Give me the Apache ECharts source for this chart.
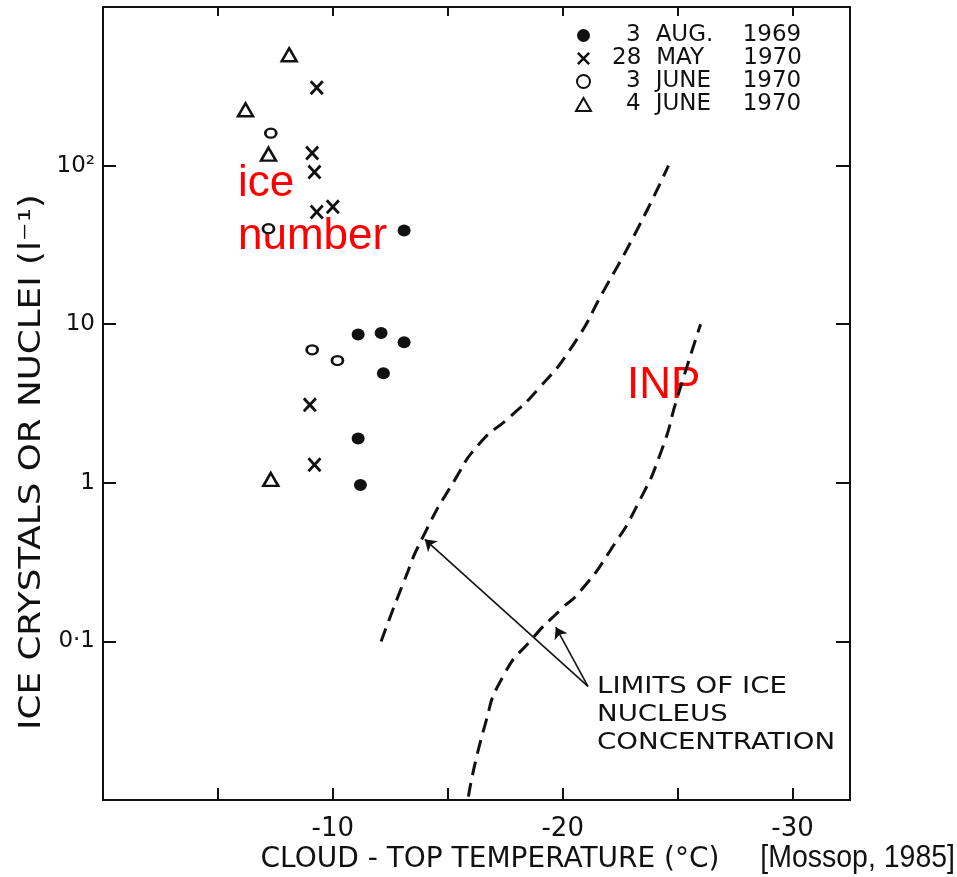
<!DOCTYPE html>
<html>
<head>
<meta charset="utf-8">
<script src="https://cdn.jsdelivr.net/npm/echarts@6/dist/echarts.min.js"></script>
<style>
html,body{margin:0;padding:0;background:#fff;}
#main{width:957px;height:877px;}
</style>
</head>
<body>
<div id="main"></div>
<script>
// ---- data ----
const seriesNames = ['3 AUG. 1969', '28 MAY 1970', '3 JUNE 1970', '4 JUNE 1970'];

const aug1969T = [-13.1, -11.1, -12.1, -13.1, -12.2, -11.1, -11.2];
const aug1969N = [39, 8.6, 8.8, 7.7, 4.9, 1.9, 0.97];

const may1970T = [-9.3, -9.1, -9.2, -9.3, -10.0, -9.0, -9.2];
const may1970N = [310, 120, 91, 51, 55, 3.1, 1.3];

const june3T = [-7.3, -7.2, -9.1, -10.2];
const june3N = [160, 40, 6.9, 5.9];

const june4T = [-8.1, -6.2, -7.2, -7.3];
const june4N = [500, 225, 118, 1.05];

// limits of ice nucleus concentration (dashed curves)
const limitUpperT = [-12.1, -13.1, -13.9, -15.3, -16.4, -17.7, -18.9, -20.4, -21.8, -23.3, -24.6];
const limitUpperN = [0.1, 0.24, 0.45, 1.04, 1.78, 2.6, 3.85, 7.2, 16.4, 41, 100];
const limitLowerT = [-15.9, -16.6, -17.4, -18.7, -19.9, -20.8, -22.1, -23.3, -24.3, -25.0, -26.0];
const limitLowerN = [0.0105, 0.029, 0.06, 0.105, 0.158, 0.21, 0.38, 0.75, 1.6, 3.5, 10];

// annotation arrows: label anchor -> curve
const arrowFrom = [-21.1, 0.052];
const arrowToUpper = [-14.0, 0.44];
const arrowToLower = [-19.7, 0.123];

const xTicks = [-5, -10, -15, -20, -25, -30];
const xLabels = [-10, -20, -30];
const yLabelText = {'-1': '0·1', '0': '1', '1': '10', '2': '10²'};

// ---- helpers ----
const zip = (a, b) => a.map((v, i) => [v, b[i]]);
const crossPath = 'path://M0,14L14,0L50,36L86,0L100,14L64,50L100,86L86,100L50,64L14,100L0,86L36,50Z';
const ink = '#111';
const geo = "'DejaVu Sans', sans-serif";

const chart = echarts.init(document.getElementById('main'), null, {renderer: 'canvas'});

const baseX = {
  type: 'value', min: -32.5, max: 0, inverse: true,
  axisLine: {show: true, onZero: false, lineStyle: {color: ink, width: 2}},
  splitLine: {show: false},
};
const baseY = {
  type: 'log', logBase: 10, min: 0.01, max: 1000,
  axisLine: {show: true, onZero: false, lineStyle: {color: ink, width: 2}},
  splitLine: {show: false},
  minorTick: {show: false},
};

const lt = {fontSize: 23, fontFamily: geo, color: ink, lineHeight: 23};
const legendRich = {
  s1: Object.assign({width: 30}, lt),
  s2: Object.assign({width: 16}, lt),
  d: Object.assign({}, lt),
  g: Object.assign({width: 15}, lt),
  m: Object.assign({width: 87}, lt),
  y: Object.assign({}, lt)
};

const option = {
  animation: false,
  backgroundColor: '#fff',
  grid: {left: 103, right: 107, top: 7, bottom: 77},
  xAxis: [
    Object.assign({}, baseX, {
      position: 'bottom',
      axisTick: {show: true, inside: true, length: 12, customValues: xTicks, lineStyle: {color: ink, width: 2}},
      axisLabel: {show: true, customValues: xLabels, margin: 16, fontSize: 26, fontFamily: geo, color: ink}
    }),
    Object.assign({}, baseX, {
      position: 'top',
      axisTick: {show: true, inside: true, length: 9, customValues: xTicks, lineStyle: {color: ink, width: 2}},
      axisLabel: {show: false}
    })
  ],
  yAxis: [
    Object.assign({}, baseY, {
      position: 'left',
      axisTick: {show: true, inside: true, length: 13, lineStyle: {color: ink, width: 2}},
      axisLabel: {
        show: true, margin: 8, fontSize: 23, fontFamily: geo, color: ink,
        formatter: v => yLabelText[String(Math.round(Math.log10(v)))] || ''
      }
    }),
    Object.assign({}, baseY, {
      position: 'right',
      axisTick: {show: true, inside: true, length: 14, lineStyle: {color: ink, width: 2}},
      axisLabel: {show: false}
    })
  ],
  legend: {
    orient: 'vertical', left: 570, top: 19, itemGap: 0,
    itemWidth: 15, itemHeight: 13,
    data: seriesNames,
    formatter: name => {
      const p = name.split(' ');
      const spacer = p[0].length === 1 ? '{s1| }' : '{s2| }';
      return spacer + '{d|' + p[0] + '}{g| }{m|' + p[1] + '}{y|' + p[2] + '}';
    },
    textStyle: {rich: legendRich}
  },
  series: [
    {
      name: seriesNames[0], type: 'scatter', symbol: 'circle', symbolSize: [13, 12],
      itemStyle: {color: ink, opacity: 1},
      data: zip(aug1969T, aug1969N)
    },
    {
      name: seriesNames[1], type: 'scatter', symbol: crossPath, symbolSize: [14, 15],
      itemStyle: {color: ink, opacity: 1},
      data: zip(may1970T, may1970N)
    },
    {
      name: seriesNames[2], type: 'scatter', symbol: 'circle', symbolSize: [11, 9],
      itemStyle: {color: '#fff', borderColor: ink, borderWidth: 2.5, opacity: 1},
      data: zip(june3T, june3N)
    },
    {
      name: seriesNames[3], type: 'scatter', symbol: 'triangle', symbolSize: [15, 13],
      itemStyle: {color: '#fff', borderColor: ink, borderWidth: 2.5, opacity: 1},
      data: zip(june4T, june4N)
    },
    {
      name: 'upper limit', type: 'line', smooth: 0.6, showSymbol: false, silent: true,
      lineStyle: {color: ink, width: 3, type: [14, 8]},
      data: zip(limitUpperT, limitUpperN)
    },
    {
      name: 'lower limit', type: 'line', smooth: 0.6, showSymbol: false, silent: true,
      lineStyle: {color: ink, width: 3, type: [14, 8]},
      data: zip(limitLowerT, limitLowerN)
    },
    {
      name: 'arrows', type: 'lines', coordinateSystem: 'cartesian2d', silent: true,
      symbol: ['none', 'arrow'], symbolSize: [0, 11],
      lineStyle: {color: ink, width: 1.6, opacity: 1, curveness: 0},
      data: [
        {coords: [arrowFrom, arrowToUpper]},
        {coords: [arrowFrom, arrowToLower]}
      ]
    }
  ],
  graphic: [
    {type: 'text', left: 238, top: 157, silent: true,
     style: {text: 'ice\nnumber', fill: '#ff0000', font: "44px 'Liberation Sans', Arial, sans-serif", lineHeight: 53}},
    {type: 'text', left: 627, top: 359, silent: true,
     style: {text: 'INP', fill: '#ff0000', font: "44px 'Liberation Sans', Arial, sans-serif", lineHeight: 53}},
    {type: 'text', x: 597, y: 673, scaleX: 1.2, silent: true,
     style: {text: 'LIMITS OF ICE\nNUCLEUS\nCONCENTRATION', fill: ink, font: "23px " + geo, lineHeight: 28}},
    {type: 'text', x: 490, y: 860, silent: true,
     style: {text: 'CLOUD - TOP TEMPERATURE (°C)', fill: ink, font: "28px " + geo, align: 'center', verticalAlign: 'middle'}},
    {type: 'text', x: 32, y: 462, rotation: Math.PI / 2, scaleX: 1.19, silent: true,
     style: {text: 'ICE CRYSTALS OR NUCLEI (l⁻¹)', fill: ink, font: "30px " + geo, align: 'center', verticalAlign: 'middle'}},
    {type: 'text', x: 955, y: 858, scaleX: 0.89, silent: true,
     style: {text: '[Mossop, 1985]', fill: ink, font: "32px 'Liberation Sans', Arial, sans-serif", align: 'right', verticalAlign: 'middle'}}
  ]
};

chart.setOption(option);
</script>
</body>
</html>
